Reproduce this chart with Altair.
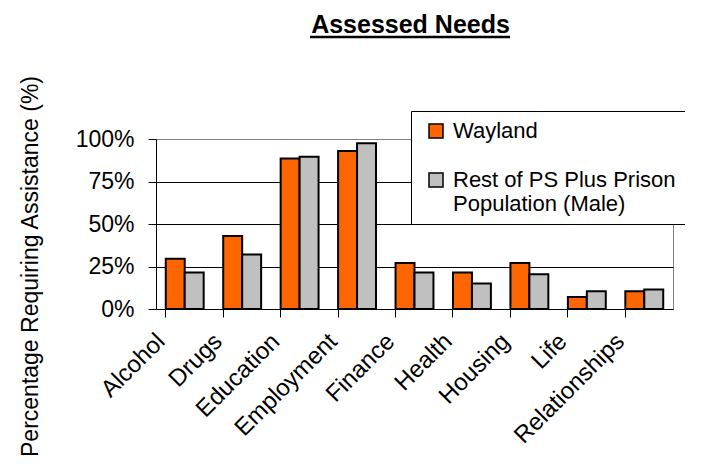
import altair as alt
import pandas as pd

categories = ["Alcohol", "Drugs", "Education", "Employment", "Finance",
              "Health", "Housing", "Life", "Relationships"]
series_names = ["Wayland", "Rest of PS Plus Prison Population (Male)"]
wayland = [29.5, 43, 88.5, 93, 27, 21.5, 27, 7, 10.5]
rest = [21.5, 32, 89.5, 97.5, 21.5, 15, 20.5, 10.5, 11.5]
y_ticks = [0, 25, 50, 75, 100]

rows = []
for i, c in enumerate(categories):
    rows.append({"need": c, "series": series_names[0], "value": wayland[i]})
    rows.append({"need": c, "series": series_names[1], "value": rest[i]})
df = pd.DataFrame(rows)

FONT = "Liberation Sans"

bars = alt.Chart(df).mark_bar(stroke="black", strokeWidth=2).encode(
    x=alt.X("need:N", sort=categories,
            scale=alt.Scale(paddingInner=0.34, paddingOuter=0.17),
            axis=alt.Axis(title=None, labelAngle=-45, labelAlign="right",
                          labelBaseline="top", bandPosition=0, labelOffset=-32,
                          labelPadding=12, tickSize=8, tickColor="black",
                          domainColor="black", labelFontSize=24, labelFont=FONT,
                          labelColor="black", grid=False)),
    xOffset=alt.XOffset("series:N", sort=series_names,
                        scale=alt.Scale(paddingInner=0, paddingOuter=0)),
    y=alt.Y("value:Q", scale=alt.Scale(domain=[0, 100], nice=False),
            axis=alt.Axis(values=y_ticks, labelExpr="datum.value + '%'",
                          tickSize=8, tickColor="black", domainColor="black",
                          labelPadding=14, labelFontSize=23, labelFont=FONT,
                          labelColor="black",
                          gridColor={"condition": {"test": "datum.value == 100", "value": "#808080"}, "value": "black"},
                          title="Percentage Requiring Assistance (%)",
                          titleFontSize=23, titleFontWeight="normal", titleFont=FONT,
                          titleColor="black", titleX=-114, titleY=127)),
    color=alt.Color("series:N", sort=series_names,
                    scale=alt.Scale(domain=series_names, range=["#FF6600", "#C0C0C0"]),
                    legend=alt.Legend(
                        title=None, orient="none", legendX=255, legendY=-28,
                        symbolType="square", symbolSize=196,
                        symbolStrokeColor="black", symbolStrokeWidth=1.5,
                        symbolOffset=5, labelOffset=6,
                        labelFontSize=22, labelFont=FONT, labelColor="black",
                        labelLimit=500,
                        labelExpr="datum.label == 'Wayland' ? 'Wayland' : ['Rest of PS Plus Prison', 'Population (Male)']",
                        strokeColor="black", fillColor="white", padding=9,
                        rowPadding=27)),
)

underline = alt.Chart(pd.DataFrame({"a": [0]})).mark_rule(
    color="black", strokeWidth=2.5
).encode(x=alt.value(154), x2=alt.value(354), y=alt.value(-102))

chart = alt.layer(bars, underline).properties(
    width=517, height=170,
    title=alt.TitleParams("Assessed Needs", fontSize=25, fontWeight="bold",
                          font=FONT, color="black", anchor="middle", dx=-4, dy=6),
    autosize=alt.AutoSizeParams(type="none"),
    padding={"left": 148, "top": 131, "right": 12, "bottom": 150},
).configure_view(stroke="#808080").configure_axis(gridWidth=1)

chart.save("out.html", embed_options={"renderer": "svg", "actions": False})
